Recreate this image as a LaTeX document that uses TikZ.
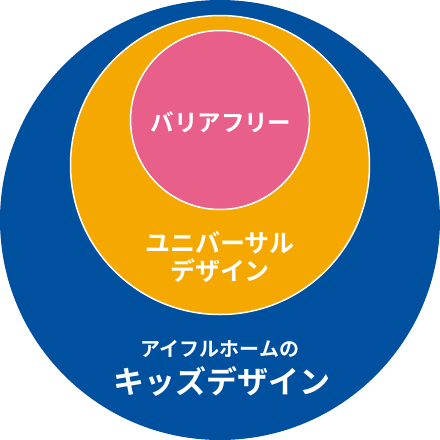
\documentclass[tikz,border=0pt]{standalone}
\usepackage{fontspec}
\newfontfamily\cjk{Noto Sans CJK JP}[BoldFont={Noto Sans CJK JP Bold}]
\definecolor{kblue}{RGB}{0,80,160}
\definecolor{korange}{RGB}{245,168,0}
\definecolor{kpink}{RGB}{232,96,138}
\begin{document}
\begin{tikzpicture}[x=1pt,y=-1pt,
  disc/.style={circle,inner sep=0pt,draw=white,line width=1.5pt},
  lbl/.style={text=white,font=\cjk\bfseries,inner sep=0pt,align=center}]
\useasboundingbox[fill=white] (0,0) rectangle (440,440);
\node[disc,fill=kblue,draw=none,minimum size=440pt] (kids) at (220,220) {};
\node[disc,fill=korange,minimum size=299pt] (univ) at (220,165) {};
\node[disc,fill=kpink,minimum size=179pt] (bf) at (220,120) {};
\node[lbl,font=\cjk\bfseries\fontsize{23.5}{23}\selectfont] (tbf) at (221,122) {バリアフリー};
\node[lbl,font=\cjk\bfseries\fontsize{25}{28.5}\selectfont] (tuniv) at (220,257) {ユニバーサル\\デザイン};
\node[lbl,font=\cjk\bfseries\fontsize{20}{20}\selectfont] (tif) at (220,349) {アイフルホームの};
\node[lbl,font=\cjk\bfseries\fontsize{31}{31}\selectfont] (tkids) at (222,381) {キッズデザイン};
\end{tikzpicture}
\end{document}
